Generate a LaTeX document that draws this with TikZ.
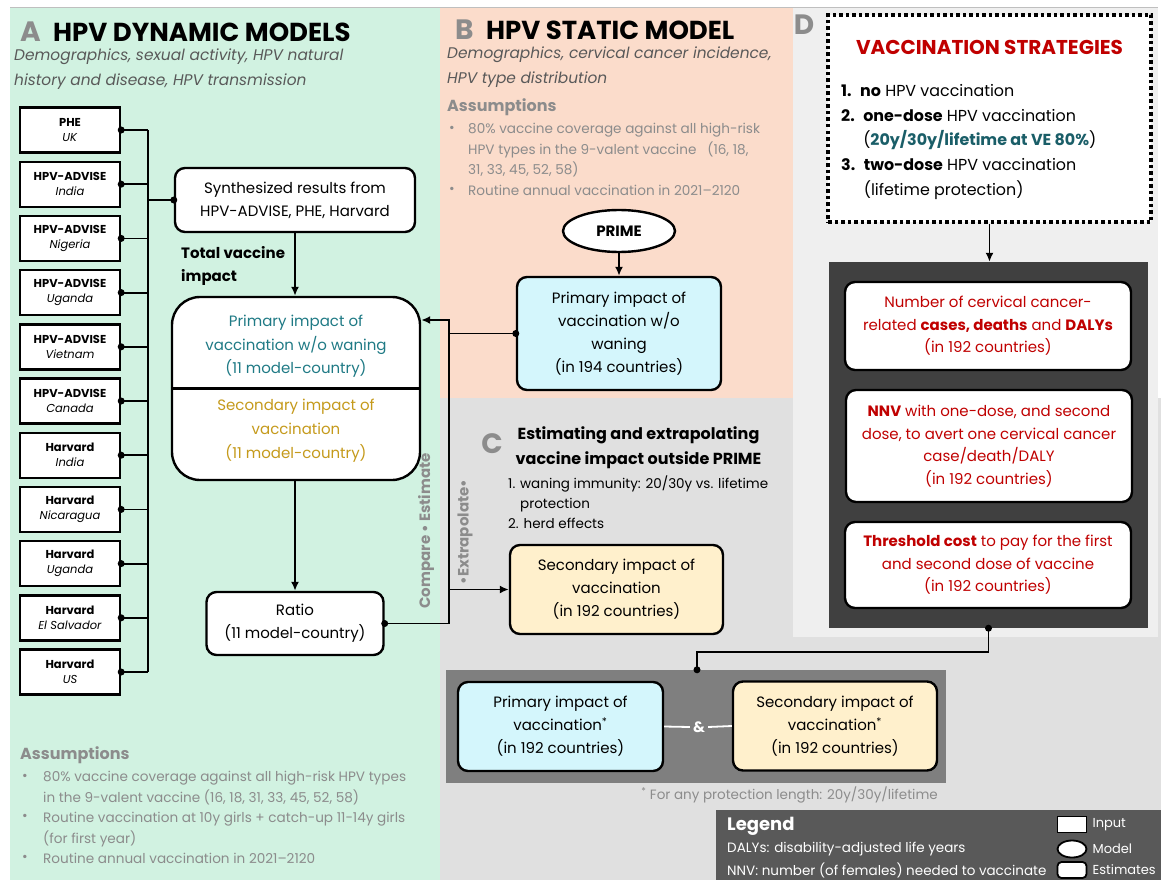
\documentclass[tikz,border=0pt]{standalone}
\usepackage{fontspec}
\setmainfont{Poppins}
\usetikzlibrary{shapes,arrows,arrows.meta,fit,calc,positioning}

\definecolor{paneA}{HTML}{D1F2E1}
\definecolor{paneB}{HTML}{FBDCCB}
\definecolor{paneC}{HTML}{E0E0E0}
\definecolor{paneD}{HTML}{EFEFEF}
\definecolor{darkbox}{HTML}{404040}
\definecolor{midbox}{HTML}{7F7F7F}
\definecolor{legbox}{HTML}{595959}
\definecolor{cyanbox}{HTML}{D4F6FC}
\definecolor{creambox}{HTML}{FFF0CC}
\definecolor{primtxt}{HTML}{1F7A85}
\definecolor{sectxt}{HTML}{C59A1B}
\definecolor{dred}{HTML}{C00000}
\definecolor{dteal}{HTML}{1A5E68}
\definecolor{labgray}{HTML}{8C8C8C}
\definecolor{subgray}{HTML}{595959}

\begin{document}
\begin{tikzpicture}[x=1pt,y=-1pt,
  inbox/.style={draw,line width=2.4pt,fill=white,minimum width=100pt,minimum height=45pt,inner sep=0pt,align=center,font=\fontsize{11.5}{15}\selectfont},
  estbox/.style={draw,line width=2.4pt,rounded corners=10pt,fill=white,align=center,inner sep=0pt,font=\fontsize{15}{23}\selectfont},
  redbox/.style={estbox,minimum width=286pt,text=dred,font=\fontsize{15}{22.5}\selectfont},
  link/.style={line width=1.8pt},
  note/.style={inner sep=0pt,align=left,text=labgray,font=\fontsize{13.6}{20.5}\selectfont},
  panel/.style={inner sep=0pt,text=labgray,font=\fontsize{28}{30}\selectfont\bfseries},
  head/.style={inner sep=0pt,font=\fontsize{26}{30}\selectfont\bfseries},
  sub/.style={inner sep=0pt,align=left,text=subgray,font=\fontsize{15.4}{25}\selectfont\itshape},
  >={Latex[length=9pt,width=8pt]}
]

\fill[white] (0,0) rectangle (1161,880);
\fill[paneA] (10,8) rectangle (440,880);
\fill[paneB] (440,8) rectangle (793,398);
\fill[paneC] (440,398) rectangle (1161,880);
\fill[paneD] (793,8) rectangle (1158,637);
\draw[gray!50,line width=1pt] (10,7.5) -- (1158,7.5);
\useasboundingbox (0,0) rectangle (1161,880);

\node[panel,anchor=west] (labA) at (20,32) {A};
\node[head,right=12pt of labA] (titA) {HPV DYNAMIC MODELS};
\node[sub,anchor=west] (subA) at (14,69.5) {Demographics, sexual activity, HPV natural\\history and disease, HPV transmission};

\foreach \mdl/\ctry [count=\i] in {PHE/UK,HPV-ADVISE/India,HPV-ADVISE/Nigeria,HPV-ADVISE/Uganda,HPV-ADVISE/Vietnam,HPV-ADVISE/Canada,Harvard/India,Harvard/Nicaragua,Harvard/Uganda,Harvard/El Salvador,Harvard/US}{
\node[inbox] (in\i) at (70,{75.8+54.2*\i}) {\textbf{\mdl}\\\textit{\ctry}};
}

\coordinate (bus) at (148,0);
\foreach \i in {1,...,11}{
\draw[link] (in\i.east) -- (in\i.east -| bus);
\fill (in\i.east) circle (3.5);
}
\draw[link] (bus |- in1.east) -- (bus |- in11.east);

\node[estbox,minimum width=240pt,minimum height=64pt] (synth) at (295,200) {Synthesized results from\\HPV-ADVISE, PHE, Harvard};
\draw[link] (bus |- synth.west) -- (synth.west);
\fill (synth.west) circle (3.5);

\node[anchor=north west,inner sep=0pt,align=left,font=\fontsize{15}{23}\selectfont\bfseries] (tvi) at (181,246) {Total vaccine\\impact};

\node[draw,line width=2.4pt,rounded corners=28pt,fill=white,minimum width=248pt,minimum height=183pt] (big) at (296,388.5) {};
\draw[line width=2.4pt] (big.west) -- (big.east);
\node[align=center,inner sep=0pt,text=primtxt,font=\fontsize{15}{23.5}\selectfont] (bigtop) at (296,346.5) {Primary impact of\\vaccination w/o waning\\(11 model-country)};
\node[align=center,inner sep=0pt,text=sectxt,font=\fontsize{15}{24}\selectfont] (bigbot) at (296,431) {Secondary impact of\\vaccination\\(11 model-country)};
\draw[link,->] (synth.south) -- (synth.south |- big.north);

\node[estbox,minimum width=177pt,minimum height=63pt] (ratio) at (295,623.5) {Ratio\\(11 model-country)};
\draw[link,->] (ratio.north |- big.south) -- (ratio.north);

\node[panel,anchor=west] (labB) at (455,30) {B};
\node[head,right=12pt of labB] (titB) {HPV STATIC MODEL};
\node[sub,anchor=west] (subB) at (447,67.5) {Demographics, cervical cancer incidence,\\HPV type distribution};
\node[note,anchor=west,font=\fontsize{16}{20}\selectfont\bfseries] (asmB) at (447,107) {Assumptions};
\node[note,anchor=west] (lstB) at (468,159.5) {80\% vaccine coverage against all high-risk\\HPV types in the 9-valent vaccine \ \ (16, 18,\\31, 33, 45, 52, 58)\\Routine annual vaccination in 2021--2120};
\node[note] (bB1) at (452,129) {\textbullet};
\node[note] (bB2) at (452,190) {\textbullet};

\node[draw,ellipse,line width=2.4pt,fill=white,minimum width=112pt,minimum height=42pt,font=\fontsize{15}{18}\selectfont\bfseries] (prime) at (619,231) {PRIME};
\node[estbox,fill=cyanbox,minimum width=204pt,minimum height=113pt] (primB) at (619,333.5) {Primary impact of\\vaccination w/o\\waning\\(in 194 countries)};
\draw[link,->] (prime.south) -- (primB.north);

\coordinate (jt) at (449,320);
\draw[link,->] (primB.west) -| (jt) -- (big.east |- jt);
\fill (primB.west) circle (3.5);
\draw[link] (ratio.east) -| (jt);
\fill (ratio.east) circle (3.5);

\node[rotate=90,inner sep=0pt,text=labgray,font=\fontsize{15}{18}\selectfont\bfseries] (cmp) at (426,531) {Compare \textbullet{} Estimate};
\node[rotate=90,inner sep=0pt,text=labgray,font=\fontsize{15}{18}\selectfont\bfseries] (extr) at (465,532) {\textbullet Extrapolate\textbullet};

\node[panel] (labC) at (492,444) {C};
\node[align=center,inner sep=0pt,font=\fontsize{16}{24.5}\selectfont\bfseries] (titC) at (638.5,447.5) {Estimating and extrapolating\\vaccine impact outside PRIME};
\node[anchor=west,inner sep=0pt,align=left,font=\fontsize{13.5}{20}\selectfont] (lstC) at (508,502) {1. waning immunity: 20/30y vs. lifetime\\\phantom{1. }protection\\2. herd effects};
\node[estbox,fill=creambox,minimum width=213pt,minimum height=89pt] (secC) at (616.5,589.5) {Secondary impact of\\vaccination\\(in 192 countries)};
\draw[link,->] (secC.west -| jt) -- (secC.west);

\node[panel] (labD) at (804,25) {D};
\node[draw,line width=3.5pt,dash pattern=on 3.5pt off 3pt,fill=white,minimum width=323pt,minimum height=207pt] (strat) at (989.5,118.5) {};
\node[inner sep=0pt,text=dred,font=\fontsize{20}{24}\selectfont\bfseries] (stratT) at (989.5,47) {VACCINATION STRATEGIES};
\node[anchor=west,inner sep=0pt,align=left,font=\fontsize{15.9}{24.7}\selectfont] (stratL) at (841,142) {\textbf{1.}\ \ \textbf{no} HPV vaccination\\\textbf{2.}\ \ \textbf{one-dose} HPV vaccination\\\phantom{\textbf{2.}\ \ }(\textcolor{dteal}{\textbf{20y/30y/lifetime at VE 80\%}})\\\textbf{3.}\ \ \textbf{two-dose} HPV vaccination\\\phantom{\textbf{3.}\ \ }(lifetime protection)};

\node[fill=darkbox,minimum width=319pt,minimum height=366pt,inner sep=0pt] (dark) at (988.5,445) {};
\draw[link,->] (strat.south) -- (strat.south |- dark.north);
\node[redbox,minimum height=88pt] (cnt) at (988,326) {Number of cervical cancer-\\related \textbf{cases, deaths} and \textbf{DALYs}\\(in 192 countries)};
\node[redbox,minimum height=112pt] (nnv) at (989,446) {\textbf{NNV} with one-dose, and second\\dose, to avert one cervical cancer\\case/death/DALY\\(in 192 countries)};
\node[redbox,minimum height=86pt] (thr) at (988,565) {\textbf{Threshold cost} to pay for the first\\and second dose of vaccine\\(in 192 countries)};

\node[fill=midbox,minimum width=500pt,minimum height=113pt,inner sep=0pt] (outbox) at (696,726.5) {};
\coordinate (knee) at (697,652);
\draw[link] (dark.south) |- (knee) -- (knee |- outbox.north);
\fill (dark.south) circle (3.5);
\fill (knee |- outbox.north) circle (3.5);
\node[estbox,fill=cyanbox,minimum width=205pt,minimum height=89pt] (primO) at (560.5,726.5) {Primary impact of\\vaccination\textsuperscript{*}\\(in 192 countries)};
\node[estbox,fill=creambox,minimum width=204pt,minimum height=89pt] (secO) at (835,726) {Secondary impact of\\vaccination\textsuperscript{*}\\(in 192 countries)};
\node[inner sep=3pt,text=white,font=\fontsize{15}{18}\selectfont\bfseries] (amp) at (699,727) {\&};
\draw[link,white] (primO.east) -- (amp.west);
\draw[link,white] (amp.east) -- (secO.west);
\node[note,anchor=east,font=\fontsize{13.5}{16}\selectfont] (foot) at (938,795) {\textsuperscript{*} For any protection length: 20y/30y/lifetime};

\node[note,anchor=west,font=\fontsize{16}{20}\selectfont\bfseries] (asmA) at (20,755) {Assumptions};
\node[note,anchor=west] (lstA) at (43,817.5) {80\% vaccine coverage against all high-risk HPV types\\in the 9-valent vaccine (16, 18, 31, 33, 45, 52, 58)\\Routine vaccination at 10y girls + catch-up 11-14y girls\\(for first year)\\Routine annual vaccination in 2021--2120};
\node[note] (bA1) at (25,777) {\textbullet};
\node[note] (bA2) at (25,817) {\textbullet};
\node[note] (bA3) at (25,858) {\textbullet};

\node[fill=legbox,minimum width=445pt,minimum height=70pt,inner sep=0pt,anchor=north west] (leg) at (716,810) {};
\node[anchor=west,inner sep=0pt,text=white,font=\fontsize{18}{20}\selectfont\bfseries] (legT) at (727,826) {Legend};
\node[anchor=west,inner sep=0pt,text=white,font=\fontsize{13.5}{16}\selectfont] (legD) at (727,849) {DALYs: disability-adjusted life years};
\node[anchor=west,inner sep=0pt,text=white,font=\fontsize{13.5}{16}\selectfont] (legN) at (727,870) {NNV: number (of females) needed to vaccinate};
\node[draw,line width=1.8pt,fill=white,minimum width=29pt,minimum height=16pt,inner sep=0pt] (keyI) at (1072,824.5) {};
\node[draw,ellipse,line width=1.8pt,fill=white,minimum width=29pt,minimum height=17pt,inner sep=0pt] (keyM) at (1072,849) {};
\node[draw,rounded corners=4pt,line width=1.8pt,fill=white,minimum width=29pt,minimum height=16pt,inner sep=0pt] (keyE) at (1072,870) {};
\node[anchor=west,inner sep=0pt,text=white,font=\fontsize{13}{15}\selectfont] (keyIt) at ([xshift=5pt]keyI.east) {Input};
\node[anchor=west,inner sep=0pt,text=white,font=\fontsize{13}{15}\selectfont] (keyMt) at ([xshift=5pt]keyM.east) {Model};
\node[anchor=west,inner sep=0pt,text=white,font=\fontsize{13}{15}\selectfont] (keyEt) at ([xshift=5pt]keyE.east) {Estimates};

\end{tikzpicture}
\end{document}
